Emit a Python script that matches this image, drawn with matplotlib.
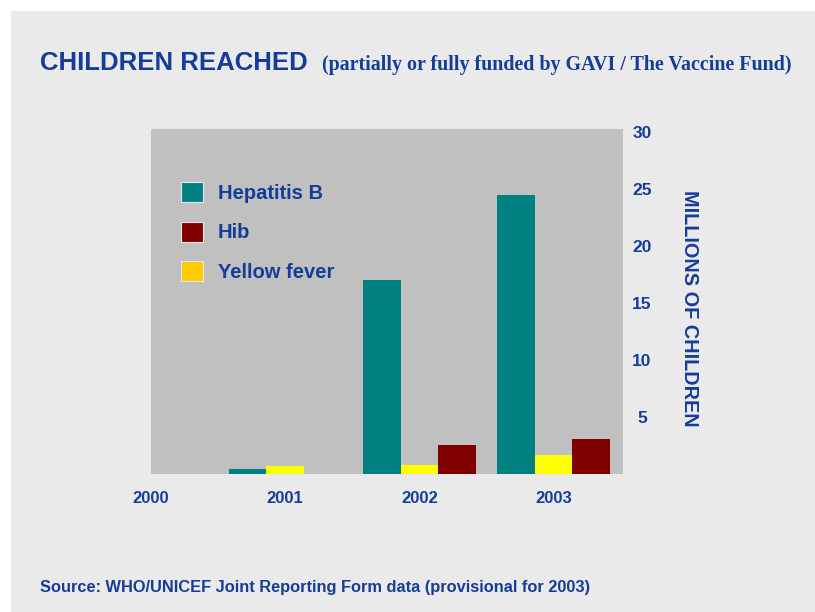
import matplotlib
matplotlib.use("Agg")
import matplotlib.pyplot as plt
from matplotlib.patches import Patch, Rectangle

# values (millions of children)
years = [2000, 2001, 2002, 2003]
hep_b = [0.0, 0.45, 17.0, 24.5]
yellow_fever = [0.0, 0.7, 0.8, 1.67]
hib = [0.0, 0.0, 2.55, 3.07]
y_ticks = [5, 10, 15, 20, 25, 30]

series_names = ["Hepatitis B", "Hib", "Yellow fever"]

NAVY = "#143C99"
TEAL = "#008080"
MAROON = "#800000"
YELLOW = "#FFFF00"
GOLD = "#FFCC00"

plt.rcParams.update({
    "font.family": "Liberation Sans",
    "font.weight": "bold",
})

fig = plt.figure(figsize=(8.15, 6.12), dpi=100)
fig.patch.set_facecolor("white")
# slide background (thin white margin on top and left)
fig.add_artist(Rectangle((11 / 815, 0), 1 - 11 / 815, 1 - 11 / 612,
                         transform=fig.transFigure, facecolor="#EAEAEA",
                         edgecolor="none", zorder=-10))

ax = fig.add_axes([151 / 815, 138 / 612, 472 / 815, 345 / 612])
ax.set_facecolor("#C0C0C0")

w = 0.279
x = years
ax.bar([v - w for v in x], hep_b, width=w, color=TEAL, linewidth=0)
ax.bar(x, yellow_fever, width=w, color=YELLOW, linewidth=0)
ax.bar([v + w for v in x], hib, width=w, color=MAROON, linewidth=0)

ax.set_xlim(2000, 2003.517)
ax.set_ylim(0, 30.3)

for s in ax.spines.values():
    s.set_visible(False)

ax.set_xticks(years)
ax.set_xticklabels([str(y) for y in years])
ax.tick_params(axis="x", length=0, pad=12, labelsize=12, labelcolor=NAVY)

ax.yaxis.tick_right()
ax.set_yticks(y_ticks)
ax.tick_params(axis="y", length=0, pad=13.7, labelsize=12.5, labelcolor=NAVY)
for lbl in ax.get_yticklabels():
    lbl.set_horizontalalignment("center")

handles = [
    Patch(facecolor=TEAL, edgecolor="#E8E8E8", linewidth=0.8),
    Patch(facecolor=MAROON, edgecolor="#E8E8E8", linewidth=0.8),
    Patch(facecolor=GOLD, edgecolor="#E8E8E8", linewidth=0.8),
]
leg = ax.legend(handles, series_names, loc="upper left",
                bbox_to_anchor=(0.0636, 0.846), frameon=False,
                borderpad=0, borderaxespad=0, fontsize=14.5,
                handlelength=1.09, handleheight=1.15, handletextpad=0.75,
                labelspacing=0.93)
for t in leg.get_texts():
    t.set_color(NAVY)
    t.set_fontweight("bold")

fig.text(690 / 815, 0.497, "MILLIONS OF CHILDREN", rotation=-90,
         ha="center", va="center", fontsize=14.3, color=NAVY, fontweight="bold")

fig.text(40.5 / 815, 0.886, "CHILDREN REACHED", ha="left", va="baseline",
         fontsize=18.5, color=NAVY, fontweight="bold")
fig.text(322 / 815, 0.886, "(partially or fully funded by GAVI / The Vaccine Fund)",
         ha="left", va="baseline", fontsize=14.4, color=NAVY, fontweight="bold",
         family="Liberation Serif")

fig.text(39.5 / 815, 0.0327,
         "Source: WHO/UNICEF Joint Reporting Form data (provisional for 2003)",
         ha="left", va="baseline", fontsize=11.8, color=NAVY, fontweight="bold")

fig.savefig("out.png", dpi=100)
